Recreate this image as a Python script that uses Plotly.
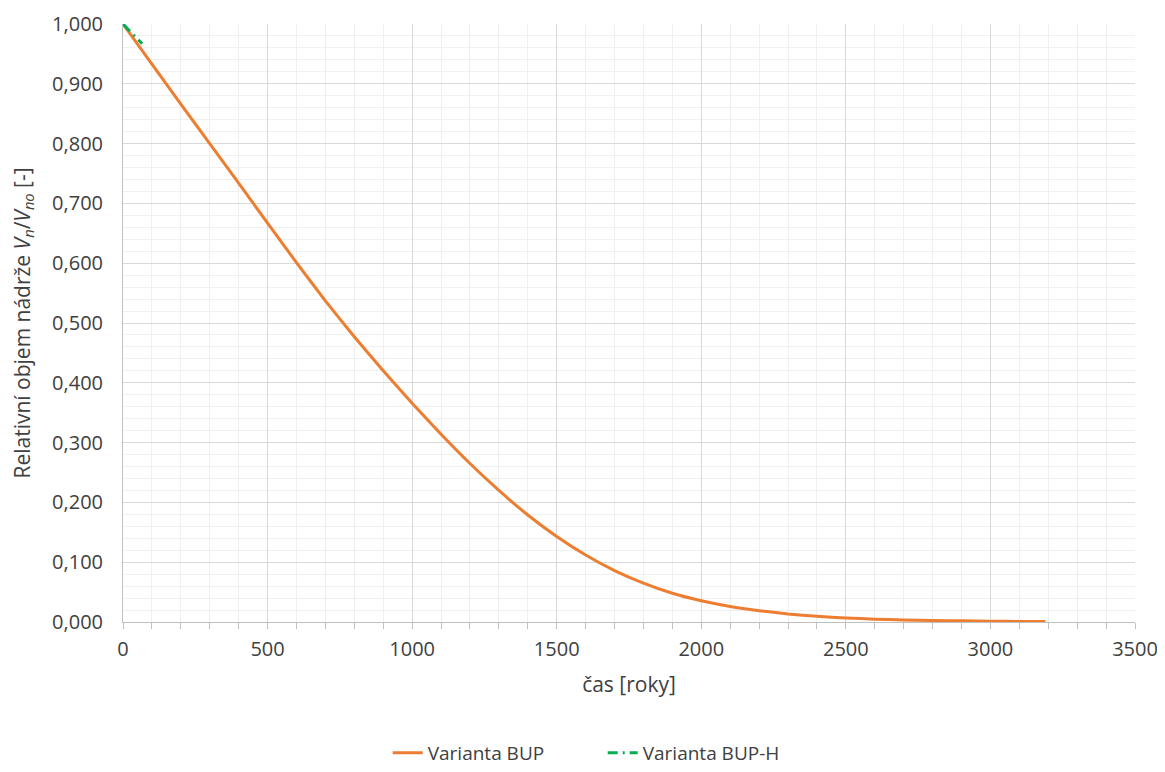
import plotly.graph_objects as go

years_bup = [0, 100, 200, 300, 400, 500, 600, 700, 800, 900, 1000, 1100, 1200, 1300,
             1400, 1500, 1600, 1700, 1800, 1900, 2000, 2100, 2200, 2300, 2400, 2500,
             2600, 2700, 2800, 2900, 3000, 3100, 3190]
vol_bup = [1.000, 0.933, 0.866, 0.800, 0.734, 0.667, 0.601, 0.537, 0.477, 0.420, 0.366,
           0.314, 0.265, 0.220, 0.179, 0.143, 0.112, 0.086, 0.065, 0.048, 0.0355, 0.026,
           0.019, 0.0135, 0.0095, 0.0067, 0.0048, 0.0035, 0.0026, 0.0019, 0.0014, 0.0010, 0.0008]

years_buph = [0, 66]
vol_buph = [1.000, 0.967]

x_ticks = [0, 500, 1000, 1500, 2000, 2500, 3000, 3500]

font_family = "Open Sans, Liberation Sans, sans-serif"
text_col = "#404040"

fig = go.Figure()
fig.add_trace(go.Scatter(x=years_bup, y=vol_bup, mode="lines", name="Varianta BUP",
                         line=dict(color="#ED7D31", width=3, shape="spline", smoothing=0.4)))
fig.add_trace(go.Scatter(x=years_buph, y=vol_buph, mode="lines", name="Varianta BUP-H",
                         line=dict(color="#00B050", width=3, dash="10px,5px,2px,5px")))

fig.update_layout(
    width=1157, height=764,
    margin=dict(l=114.5, r=30, t=15.5, b=150, autoexpand=False),
    paper_bgcolor="white", plot_bgcolor="white",
    separators=", ",
    font=dict(family=font_family, size=18, color=text_col),
    legend=dict(orientation="h", xref="container", x=0.514, xanchor="center",
                yref="container", y=-0.008, yanchor="bottom",
                font=dict(size=19, color=text_col), traceorder="normal",
                entrywidth=170, entrywidthmode="pixels"),
    showlegend=True,
)

fig.update_xaxes(
    range=[0, 3500], tickvals=x_ticks, ticktext=[str(v) for v in x_ticks],
    automargin=False,
    showgrid=True, gridcolor="#D9D9D9", gridwidth=1,
    showline=True, linecolor="#BFBFBF", linewidth=1,
    ticks="outside", ticklen=6, tickcolor="#BFBFBF",
    ticklabelstandoff=3,
    minor=dict(dtick=100, showgrid=True, gridcolor="#F0F0F0", ticks="outside",
               ticklen=6, tickcolor="#BFBFBF"),
    zeroline=False,
    tickfont=dict(size=20, color=text_col),
    title=dict(text="čas [roky]", font=dict(size=21, color=text_col), standoff=16),
)
fig.update_yaxes(
    range=[0, 1], dtick=0.1, tick0=0, tickformat=".3f",
    automargin=False,
    showgrid=True, gridcolor="#D9D9D9", gridwidth=1,
    showline=True, linecolor="#BFBFBF", linewidth=1,
    ticks="", ticklabelstandoff=15,
    minor=dict(dtick=0.02, showgrid=True, gridcolor="#F0F0F0"),
    zeroline=False,
    tickfont=dict(size=20, color=text_col),
    title=dict(text="Relativní objem nádrže <i>V</i><sub><i>n</i></sub>/<i>V</i><sub><i>no</i></sub> [-]",
               font=dict(size=21, color=text_col), standoff=24),
)

fig.write_html("out.html")
